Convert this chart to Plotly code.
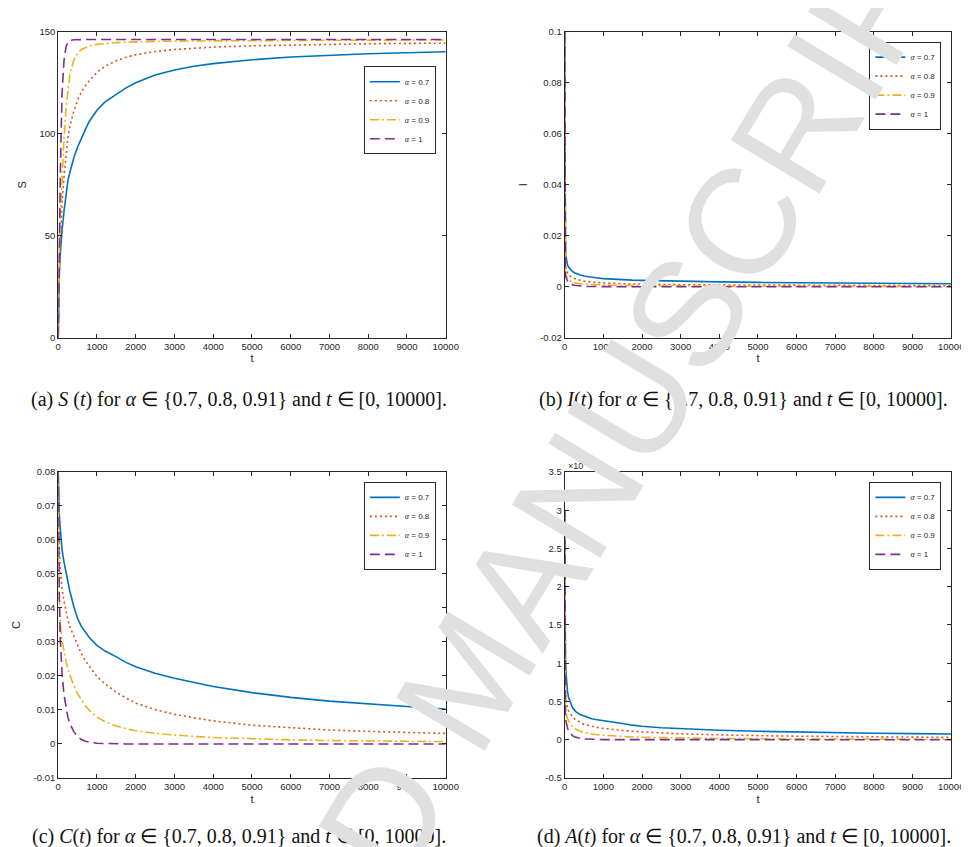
import plotly.graph_objects as go

# ---------------- data ----------------
t = [0, 5, 10, 20, 30, 50, 75, 100, 150, 200, 250, 300, 400, 500, 600, 700, 800, 1000,
     1200, 1500, 1750, 2000, 2500, 3000, 3500, 4000, 5000, 6000, 7000, 8000, 9000, 10000]
alphas = ["0.7", "0.8", "0.9", "1"]

S_07 = [0, 10, 16, 25, 31, 40, 47, 53, 62, 71, 77, 81, 88, 93.5, 98, 102, 106, 111.5,
        115.5, 119.5, 122.5, 125, 128.8, 131.3, 133.1, 134.4, 136.3, 137.6, 138.5, 139.2, 139.7, 140.2]
S_08 = [0, 12, 19, 29, 36, 46, 57, 66, 79, 90, 98, 103.5, 111, 116.5, 120.5, 123.5, 126, 130,
        133, 135.8, 137.5, 138.7, 140.3, 141.3, 142, 142.5, 143.1, 143.5, 143.8, 144.1, 144.3, 144.4]
S_09 = [0, 14, 22, 33, 42, 56, 69, 80, 98, 112, 122, 129, 136, 139.5, 141.3, 142.3, 143, 143.8,
        144.3, 144.7, 144.9, 145.1, 145.3, 145.4, 145.5, 145.6, 145.7, 145.8, 145.85, 145.9, 145.95, 146]
S_10 = [0, 10, 20, 36, 50, 74, 100, 120, 136, 142.5, 144.8, 145.7, 146.1, 146.2, 146.2, 146.2, 146.2, 146.2,
        146.2, 146.2, 146.2, 146.2, 146.2, 146.2, 146.2, 146.2, 146.2, 146.2, 146.2, 146.2, 146.2, 146.2]

I_07 = [0.1, 0.03, 0.02, 0.014, 0.012, 0.0098, 0.0085, 0.0077, 0.0067, 0.006, 0.0055, 0.0051, 0.0046, 0.0042,
        0.0039, 0.0037, 0.0035, 0.0032, 0.003, 0.0028, 0.0026, 0.0025, 0.0023, 0.0021, 0.002, 0.0019,
        0.0017, 0.0016, 0.0015, 0.0014, 0.0013, 0.0012]
I_08 = [0.1, 0.02, 0.013, 0.009, 0.0075, 0.006, 0.0052, 0.0047, 0.004, 0.0035, 0.0032, 0.0029, 0.0025, 0.0022,
        0.002, 0.0018, 0.0017, 0.0015, 0.0013, 0.0012, 0.0011, 0.001, 0.0009, 0.0008, 0.00075, 0.0007,
        0.0006, 0.00055, 0.0005, 0.00046, 0.00043, 0.0004]
I_09 = [0.1, 0.015, 0.009, 0.0058, 0.0047, 0.0037, 0.0031, 0.0027, 0.0022, 0.0018, 0.0016, 0.0014, 0.0012, 0.001,
        0.0009, 0.0008, 0.00075, 0.00065, 0.0006, 0.0005, 0.00045, 0.0004, 0.00035, 0.0003, 0.00027, 0.00025,
        0.0002, 0.00017, 0.00015, 0.00013, 0.00011, 0.0001]
I_10 = [0.1, 0.012, 0.007, 0.0045, 0.0037, 0.0028, 0.0022, 0.0018, 0.0012, 0.0008, 0.0006, 0.00045, 0.00025, 0.00015,
        0.0001, 0.00006, 0.00004, 0.00002, 0, 0, 0, 0, 0, 0, 0, 0,
        0, 0, 0, 0, 0, 0]

C_07 = [0.08, 0.075, 0.072, 0.069, 0.067, 0.064, 0.06, 0.057, 0.0535, 0.0503, 0.0475, 0.045, 0.0405, 0.0369,
        0.0345, 0.0328, 0.0313, 0.029, 0.0274, 0.0256, 0.024, 0.0227, 0.0208, 0.0193, 0.018, 0.0169,
        0.0151, 0.0137, 0.0126, 0.0117, 0.011, 0.0103]
C_08 = [0.08, 0.07, 0.065, 0.06, 0.057, 0.052, 0.048, 0.0455, 0.042, 0.039, 0.0365, 0.0345, 0.0318, 0.029,
        0.0265, 0.0245, 0.0228, 0.0198, 0.0177, 0.0152, 0.0135, 0.012, 0.0101, 0.0087, 0.0077, 0.0068,
        0.0055, 0.0047, 0.0041, 0.0037, 0.0034, 0.0031]
C_09 = [0.08, 0.06, 0.052, 0.045, 0.041, 0.036, 0.0325, 0.0305, 0.027, 0.0243, 0.022, 0.0203, 0.0172, 0.0148,
        0.0128, 0.0112, 0.0099, 0.0079, 0.0066, 0.0053, 0.0045, 0.0039, 0.0031, 0.0026, 0.0022, 0.0019,
        0.0015, 0.0012, 0.001, 0.0009, 0.0008, 0.0007]
C_10 = [0.08, 0.07, 0.062, 0.05, 0.042, 0.032, 0.025, 0.0205, 0.0145, 0.0105, 0.0078, 0.006, 0.0037, 0.0022,
        0.0013, 0.0008, 0.0005, 0.0002, 0.0001, 0.00004, 0, 0, 0, 0, 0, 0,
        0, 0, 0, 0, 0, 0]

A_07 = [3.0, 2.0, 1.5, 1.1, 0.9, 0.72, 0.62, 0.55, 0.47, 0.42, 0.39, 0.36, 0.33, 0.31,
        0.29, 0.275, 0.265, 0.247, 0.232, 0.212, 0.19, 0.175, 0.157, 0.143, 0.132, 0.123,
        0.11, 0.099, 0.09, 0.084, 0.079, 0.075]
A_08 = [3.0, 1.3, 0.9, 0.65, 0.55, 0.45, 0.41, 0.38, 0.33, 0.3, 0.275, 0.255, 0.225, 0.2,
        0.185, 0.173, 0.163, 0.147, 0.135, 0.12, 0.11, 0.101, 0.087, 0.077, 0.069, 0.062,
        0.053, 0.046, 0.041, 0.037, 0.033, 0.03]
A_09 = [3.0, 0.9, 0.6, 0.43, 0.36, 0.3, 0.27, 0.245, 0.2, 0.17, 0.15, 0.133, 0.11, 0.093,
        0.082, 0.074, 0.068, 0.058, 0.05, 0.042, 0.036, 0.032, 0.026, 0.021, 0.018, 0.016,
        0.012, 0.01, 0.0085, 0.0075, 0.0067, 0.006]
A_10 = [3.0, 0.6, 0.4, 0.3, 0.25, 0.19, 0.15, 0.12, 0.08, 0.053, 0.038, 0.028, 0.017, 0.01,
        0.0065, 0.0045, 0.003, 0.0015, 0.0008, 0.0003, 0, 0, 0, 0, 0, 0,
        0, 0, 0, 0, 0, 0]

x_ticks = [0, 1000, 2000, 3000, 4000, 5000, 6000, 7000, 8000, 9000, 10000]
S_ticks = [0, 50, 100, 150]
I_ticks = [-0.02, 0, 0.02, 0.04, 0.06, 0.08, 0.1]
I_ticklabels = ["-0.02", "0", "0.02", "0.04", "0.06", "0.08", "0.1"]
C_ticks = [-0.01, 0, 0.01, 0.02, 0.03, 0.04, 0.05, 0.06, 0.07, 0.08]
C_ticklabels = ["-0.01", "0", "0.01", "0.02", "0.03", "0.04", "0.05", "0.06", "0.07", "0.08"]
A_ticks = [-0.5, 0, 0.5, 1, 1.5, 2, 2.5, 3, 3.5]
A_ticklabels = ["-0.5", "0", "0.5", "1", "1.5", "2", "2.5", "3", "3.5"]

sp = "\u2005"
captions = [
    f"(a) <i>S</i> (<i>t</i>) for <i>α</i>{sp}∈{sp}{{0.7,{sp}0.8,{sp}0.91}} and <i>t</i>{sp}∈{sp}[0,{sp}10000].",
    f"(b) <i>I</i>(<i>t</i>) for <i>α</i>{sp}∈{sp}{{0.7,{sp}0.8,{sp}0.91}} and <i>t</i>{sp}∈{sp}[0,{sp}10000].",
    f"(c) <i>C</i>(<i>t</i>) for <i>α</i>{sp}∈{sp}{{0.7,{sp}0.8,{sp}0.91}} and <i>t</i>{sp}∈{sp}[0,{sp}10000].",
    f"(d) <i>A</i>(<i>t</i>) for <i>α</i>{sp}∈{sp}{{0.7,{sp}0.8,{sp}0.91}} and <i>t</i>{sp}∈{sp}[0,{sp}10000].",
]

# ---------------- style ----------------
W, H = 969, 847
colors = ["#0072BD", "#D95319", "#EDB120", "#7E2F8E"]
dashes = ["solid", "2px,3px", "9px,3px,2px,3px", "10px,5px"]
AX = "#262626"


def px_x(p):
    return p / W


def px_y(p):
    return 1 - p / H


panels = [
    dict(data=[S_07, S_08, S_09, S_10], ytitle="S", yr=[0, 150], yt=S_ticks, ytl=[str(v) for v in S_ticks],
         x0=48, x1=442, y0=18, y1=328, legx=432, legy=53, cap=(232, 391)),
    dict(data=[I_07, I_08, I_09, I_10], ytitle="I", yr=[-0.02, 0.1], yt=I_ticks, ytl=I_ticklabels,
         x0=563, x1=956, y0=18, y1=328, legx=946, legy=28, cap=(745, 391)),
    dict(data=[C_07, C_08, C_09, C_10], ytitle="C", yr=[-0.01, 0.08], yt=C_ticks, ytl=C_ticklabels,
         x0=48, x1=442, y0=464, y1=774, legx=432, legy=474, cap=(232, 833)),
    dict(data=[A_07, A_08, A_09, A_10], ytitle="A", yr=[-0.5, 3.5], yt=A_ticks, ytl=A_ticklabels,
         x0=563, x1=956, y0=464, y1=774, legx=946, legy=474, cap=(745, 833)),
]

fig = go.Figure()
layout = dict(
    width=W, height=H, margin=dict(l=0, r=0, t=0, b=0),
    paper_bgcolor="white", plot_bgcolor="white", showlegend=True,
    font=dict(family="Liberation Sans, Arial, sans-serif", size=10, color=AX),
)
annotations = []

for i, p in enumerate(panels):
    sfx = "" if i == 0 else str(i + 1)
    xa, ya = "x" + sfx, "y" + sfx
    leg = "legend" if i == 0 else "legend" + str(i + 1)
    for k in range(4):
        fig.add_trace(go.Scatter(
            x=t, y=p["data"][k], mode="lines", xaxis=xa, yaxis=ya, legend=leg,
            name='<span style="font-family:Liberation Serif"><i>α</i></span> = ' + alphas[k],
            line=dict(color=colors[k], width=1.6, dash=dashes[k]),
        ))
    common = dict(showline=True, linecolor=AX, linewidth=1, mirror="allticks", ticks="inside",
                  ticklen=4, tickcolor=AX, tickwidth=1, showgrid=False, zeroline=False,
                  tickfont=dict(size=9.5, color=AX))
    layout["xaxis" + sfx] = dict(common, domain=[px_x(p["x0"]), px_x(p["x1"])], range=[0, 10000],
                                 tickmode="array", tickvals=x_ticks, ticktext=[str(v) for v in x_ticks],
                                 anchor=ya, title=dict(text="t", font=dict(size=11), standoff=3))
    layout["yaxis" + sfx] = dict(common, domain=[px_y(p["y1"]), px_y(p["y0"])], range=p["yr"],
                                 tickmode="array", tickvals=p["yt"], ticktext=p["ytl"],
                                 anchor=xa, title=dict(text=p["ytitle"], font=dict(size=11), standoff=10))
    layout[leg] = dict(x=px_x(p["legx"]), y=px_y(p["legy"]), xanchor="right", yanchor="top",
                       bgcolor="white", bordercolor=AX, borderwidth=1,
                       font=dict(size=8, color=AX), tracegroupgap=0, itemwidth=30)
    annotations.append(dict(x=px_x(p["cap"][0]), y=px_y(p["cap"][1]), xref="paper", yref="paper",
                            text=captions[i], showarrow=False, xanchor="center", yanchor="middle",
                            font=dict(family="Liberation Serif, Times New Roman, serif", size=20, color="#111111")))

annotations.append(dict(x=px_x(564), y=px_y(457), xref="paper", yref="paper", text="×10<sup>-3</sup>",
                        showarrow=False, xanchor="left", yanchor="middle", font=dict(size=9, color=AX)))

# watermark
annotations.append(dict(x=px_x(465), y=px_y(672), xref="paper", yref="paper", text="ACCEPTED MANUSCRIPT",
                        showarrow=False, textangle=-59, xanchor="center", yanchor="middle",
                        font=dict(family="Liberation Sans, Arial, sans-serif", size=150, color="#e0e0e0")))

layout["annotations"] = annotations
fig.update_layout(**layout)
fig.write_html("out.html")
